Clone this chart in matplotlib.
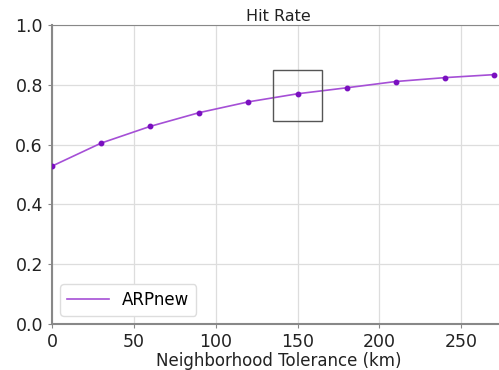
import matplotlib
matplotlib.use("Agg")
import matplotlib.pyplot as plt
from matplotlib.patches import Rectangle

tolerance_km = [0, 30, 60, 90, 120, 150, 180, 210, 240, 270]
hit_rate = [0.528, 0.605, 0.661, 0.707, 0.743, 0.770, 0.790, 0.811, 0.824, 0.834]
series_name = "ARPnew"
xticks = [0, 50, 100, 150, 200, 250]
yticks = [0.0, 0.2, 0.4, 0.6, 0.8, 1.0]

fig = plt.figure(figsize=(4.99, 3.70), dpi=100)
# axes extends slightly past the right edge of the figure (cropped like the reference)
ax = fig.add_axes([52/499, 46/370, (505-52)/499, (324-25)/370])

ax.plot(tolerance_km, hit_rate, color="#a54fd6", lw=1.2, label=series_name, zorder=3)
ax.plot(tolerance_km, hit_rate, "o", color="#7a0fc0", ms=3.2, zorder=4)

ax.add_patch(Rectangle((135, 0.68), 30, 0.17, fill=False, edgecolor="#555555", lw=1.0, zorder=5))

ax.set_xlim(0, 276.7)
ax.set_ylim(0, 1.0)
ax.set_xticks(xticks)
ax.set_yticks(yticks)
ax.set_yticklabels([f"{v:.1f}" for v in yticks])
ax.tick_params(labelsize=12.5, length=3, color="#888888", labelcolor="#222222")
ax.grid(True, color="#dddddd", lw=0.9)
ax.set_axisbelow(True)
for s in ["left", "bottom", "top", "right"]:
    ax.spines[s].set_color("#888888")
ax.spines["left"].set_linewidth(1.5)
ax.spines["bottom"].set_linewidth(1.5)
ax.set_title("Hit Rate", fontsize=11.5, color="#222222", pad=3)
ax.set_xlabel("Neighborhood Tolerance (km)", fontsize=12, color="#222222", labelpad=1)
ax.legend(loc="lower left", fontsize=12, handlelength=2.5, framealpha=1, edgecolor="#dddddd")

fig.savefig("out.png", dpi=100)
